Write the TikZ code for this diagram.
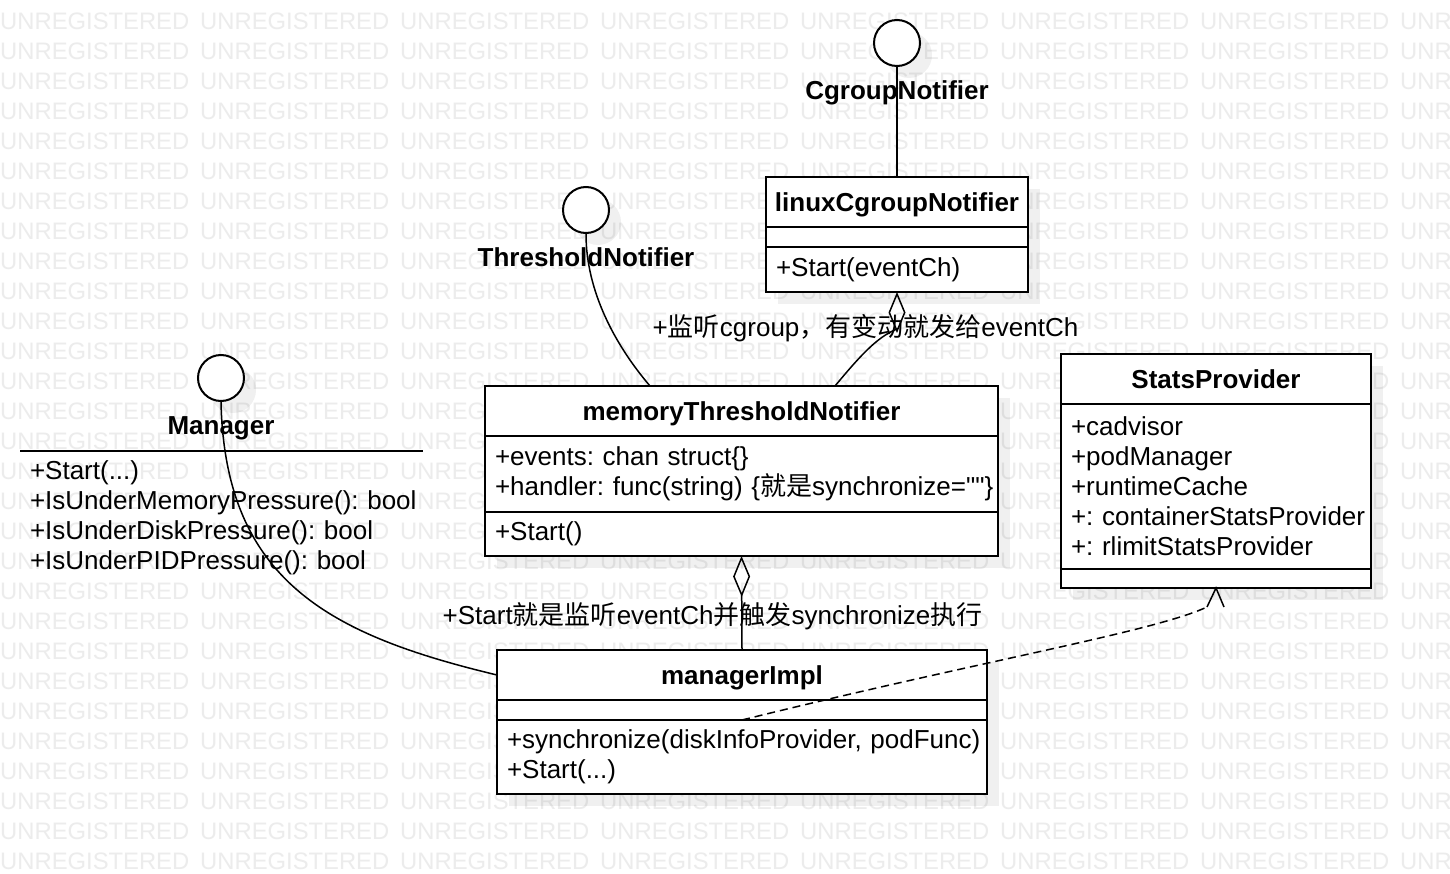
\documentclass[tikz,border=0pt]{standalone}
\usepackage{fontspec}
\setmainfont{Liberation Sans}
\newfontfamily\cjk{Noto Sans CJK SC}
\usetikzlibrary{arrows.meta,positioning,shadows}
\definecolor{wmgray}{RGB}{236,236,236}
\newcommand\umlsize{\fontsize{26}{30}\selectfont}
\frenchspacing
\hyphenpenalty=10000
\exhyphenpenalty=10000
\hfuzz=20pt
\tikzset{
  boxshadow/.style={drop shadow={shadow xshift=12pt, shadow yshift=-12pt, fill=black, opacity=.06}},
  watermark/.style={anchor=west, inner sep=0pt, text=wmgray, font=\fontsize{23.8}{26}\selectfont},
  classhead/.style={draw, fill=white, line width=2pt, outer sep=0pt, inner sep=0pt,
    minimum height=50pt, text height=22pt, text depth=3pt, font=\umlsize\bfseries, boxshadow},
  classpart/.style={draw, fill=white, line width=2pt, outer sep=0pt, inner xsep=10pt,
    inner ysep=0pt, align=left, font=\umlsize, boxshadow},
  opslist/.style={outer sep=0pt, inner xsep=10pt, inner ysep=10pt, align=left, font=\umlsize},
  iface/.style={circle, draw, fill=white, line width=2pt, minimum size=46pt, inner sep=0pt, boxshadow},
  ifacename/.style={font=\umlsize\bfseries, inner sep=0pt, text height=22pt, text depth=3pt},
  linklabel/.style={font=\umlsize, inner sep=0pt, text height=22pt, text depth=3pt},
  link/.style={line width=1.5pt},
  assoc/.style={link, -{Diamond[open, length=41pt, width=17pt]}},
}

\begin{document}
\begin{tikzpicture}[x=1pt,y=1pt]
  \useasboundingbox (0,0) rectangle (1450,-874);
  \fill[white] (0,0) rectangle (1450,-874);

  % watermark
  \foreach \r in {0,...,28}
    \foreach \c in {0,...,7}
      \node[watermark] (wm-\r-\c) at (\c*200, -21.7-\r*30) {UNREGISTERED};

  % interfaces
  \node[iface] (cgn) at (897,-43) {};
  \node[ifacename] (cgn-name) at (897,-90) {CgroupNotifier};
  \node[iface] (tn) at (586,-210) {};
  \node[ifacename] (tn-name) at (586,-257) {ThresholdNotifier};
  \node[iface] (mgr) at (221,-378) {};
  \node[ifacename] (mgr-name) at (221,-425) {Manager};
  \node[opslist, text width=383pt, anchor=north west] (mgr-ops) at (20,-451)
    {+Start(...)\\+IsUnderMemoryPressure():~bool\\+IsUnderDiskPressure():~bool\\+IsUnderPIDPressure():~bool};
  \draw[line width=2pt] (mgr-ops.north west) -- (mgr-ops.north east);

  % linuxCgroupNotifier
  \node[classhead, minimum width=262pt, anchor=north west] (lcn) at (766,-177) {linuxCgroupNotifier};
  \node[classpart, text width=242pt, minimum height=20pt, below=0pt of lcn] (lcn-a) {};
  \node[classpart, text width=242pt, minimum height=45pt, below=0pt of lcn-a] (lcn-m) {+Start(eventCh)};

  % memoryThresholdNotifier
  \node[classhead, minimum width=513pt, anchor=north west] (mtn) at (485,-386) {memoryThresholdNotifier};
  \node[classpart, text width=493pt, minimum height=76pt, below=0pt of mtn] (mtn-a)
    {+events:~chan~struct\{\}\\+handler:~func(string)~\{{\cjk 就是}synchronize=\textquotedbl\textquotedbl\}};
  \node[classpart, text width=493pt, minimum height=44pt, below=0pt of mtn-a] (mtn-m) {+Start()};

  % StatsProvider
  \node[classhead, minimum width=310pt, anchor=north west] (sp) at (1061,-354) {StatsProvider};
  \node[classpart, text width=290pt, minimum height=165pt, below=0pt of sp] (sp-a)
    {+cadvisor\\+podManager\\+runtimeCache\\+:~containerStatsProvider\\+:~rlimitStatsProvider};
  \node[classpart, text width=290pt, minimum height=19pt, below=0pt of sp-a] (sp-m) {};

  % managerImpl
  \node[classhead, minimum width=490pt, anchor=north west] (mi) at (497,-650) {managerImpl};
  \node[classpart, text width=470pt, minimum height=20pt, below=0pt of mi] (mi-a) {};
  \node[classpart, text width=470pt, minimum height=74pt, below=0pt of mi-a] (mi-m)
    {+synchronize(diskInfoProvider,~podFunc)\\+Start(...)};

  % labels on links
  \node[linklabel] (lbl-cg) at (865.5,-327) {+{\cjk 监听}cgroup{\cjk ，有变动就发给}eventCh};
  \node[linklabel] (lbl-start) at (712.5,-615) {+Start{\cjk 就是监听}eventCh{\cjk 并触发}synchronize{\cjk 执行}};

  % links
  \draw[link] (cgn.south) -- (lcn.north);
  \draw[link] (tn.south) .. controls +(0,-57) and +(-35,41) .. ([xshift=-91.5pt]mtn.north);
  \draw[link] (mgr.south) .. controls +(4,-179) and +(-167,40) .. (mi.west);
  \draw[assoc] ([xshift=93.5pt]mtn.north) .. controls +(25,30) and +(-20,-8) .. ([yshift=-37pt]lcn-m.south) -- (lcn-m.south);
  \draw[assoc] (mi.north) -- (mtn-m.south);
  \draw[link, dash pattern=on 8pt off 5pt] (mi-m.north) .. controls +(238,59) and +(-54,-25) .. ([xshift=-9pt,yshift=-19pt]sp-m.south);
  \draw[link] ([xshift=-9pt,yshift=-19pt]sp-m.south) -- (sp-m.south) -- ([xshift=8pt,yshift=-19pt]sp-m.south);
\end{tikzpicture}
\end{document}
